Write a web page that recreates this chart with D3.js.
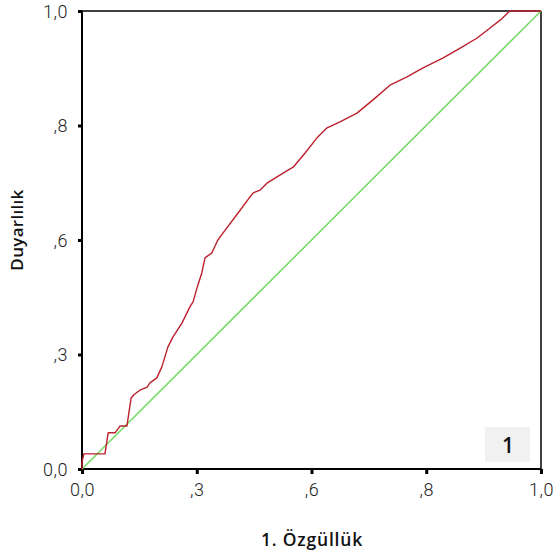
<!DOCTYPE html>
<html><head><meta charset="utf-8">
<script src="https://cdn.jsdelivr.net/npm/d3@7"></script>
<style>body{margin:0;background:#fff}svg{display:block}</style>
</head><body>
<script>
// Data
const rocX = [0,0,0.004,0.050,0.054,0.057,0.072,0.078,0.083,0.098,0.102,0.107,0.113,0.126,0.142,0.148,0.163,0.174,0.187,0.198,0.218,0.235,0.242,0.251,0.261,0.268,0.283,0.296,0.307,0.340,0.366,0.373,0.388,0.403,0.438,0.460,0.486,0.512,0.534,0.562,0.599,0.634,0.671,0.708,0.743,0.786,0.824,0.861,0.889,0.911,0.932,1];
const rocY = [0,0.015,0.033,0.033,0.059,0.079,0.079,0.087,0.094,0.094,0.122,0.155,0.162,0.172,0.179,0.188,0.199,0.223,0.266,0.288,0.319,0.354,0.365,0.397,0.428,0.461,0.472,0.500,0.515,0.559,0.594,0.603,0.609,0.624,0.646,0.659,0.690,0.723,0.745,0.758,0.777,0.806,0.838,0.856,0.876,0.897,0.919,0.941,0.963,0.980,1,1];
const refX = [0,1];
const refY = [0,1];
const tickValues = [0,0.25,0.5,0.75,1];
const tickLabels = ["0,0",",3",",6",",8","1,0"];
const panelLabel = "1";

const W=555,H=556;
const L=82,R=541,T=11,B=469;
const FONT="'Open Sans', Roboto, 'DejaVu Sans', sans-serif";
const svg=d3.select("body").append("svg").attr("width",W).attr("height",H);
const x=d3.scaleLinear().domain([0,1]).range([L,R]);
const y=d3.scaleLinear().domain([0,1]).range([B,T]);

// panel label box
svg.append("rect").attr("x",485).attr("y",427).attr("width",45).attr("height",35).attr("fill","#f1f1f1");
svg.append("text").attr("x",508).attr("y",453).attr("text-anchor","middle")
  .attr("font-family",FONT).attr("font-size",21).attr("font-weight",600).attr("fill","#111").text(panelLabel);

// frame
svg.append("line").attr("x1",L).attr("x2",R).attr("y1",T).attr("y2",T).attr("stroke","#000").attr("stroke-width",1.5);
svg.append("line").attr("x1",R).attr("x2",R).attr("y1",T).attr("y2",B).attr("stroke","#000").attr("stroke-width",1.5);

// axes
const fmt=(d)=>tickLabels[tickValues.indexOf(d)];
const xa=svg.append("g").attr("transform",`translate(0,${B})`).call(d3.axisBottom(x).tickValues(tickValues).tickFormat(fmt).tickSize(5).tickPadding(9));
const ya=svg.append("g").attr("transform",`translate(${L},0)`).call(d3.axisLeft(y).tickValues(tickValues).tickFormat(fmt).tickSize(4).tickPadding(10));
[xa,ya].forEach(g=>{
  g.select(".domain").attr("stroke","#000").attr("stroke-width",2).attr("d", g===xa?`M${L},0H${R}`:`M0,${B}V${T}`);
  g.selectAll(".tick line").attr("stroke","#000").attr("stroke-width",3);
  g.selectAll(".tick text").attr("font-family","Roboto, 'DejaVu Sans', sans-serif").attr("font-weight",300).attr("font-size",18).attr("letter-spacing","0.5px").attr("fill","#222");
});
ya.selectAll(".tick text").attr("dy","0.35em");

// reference diagonal
const line=d3.line().x(d=>x(d[0])).y(d=>y(d[1]));
svg.append("path").attr("d",line(refX.map((v,i)=>[v,refY[i]]))).attr("fill","none").attr("stroke","#72da62").attr("stroke-width",1.5);
// ROC curve
svg.append("path").attr("d",line(rocX.map((v,i)=>[v,rocY[i]]))).attr("fill","none").attr("stroke","#bb202c").attr("stroke-width",1.4).attr("stroke-linejoin","round");

// axis titles
svg.append("text").attr("x",312).attr("y",546).attr("text-anchor","middle")
  .attr("font-family",FONT).attr("font-size",17.5).attr("font-weight",600).attr("letter-spacing","0.8px").attr("fill","#111").text("1. Özgüllük");
svg.append("text").attr("transform","translate(23,230) rotate(-90)").attr("text-anchor","middle")
  .attr("font-family",FONT).attr("font-size",17).attr("font-weight",600).attr("letter-spacing","0.3px").attr("fill","#111").text("Duyarlılık");
</script>
</body></html>
